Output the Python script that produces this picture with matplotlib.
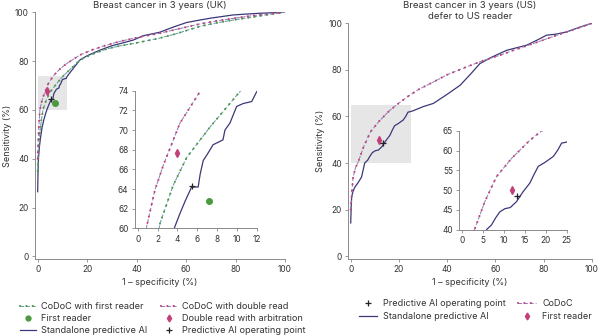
import matplotlib
matplotlib.use("Agg")
import matplotlib.pyplot as plt
from matplotlib.patches import Rectangle
from matplotlib.lines import Line2D

plt.rcParams['font.family'] = ['Inter', 'DejaVu Sans']

# ---------------- UK data ----------------
uk_ai_x = [0, 0.1, 0.3, 0.7, 1.2, 1.8, 2.5, 3.2, 3.76, 4.26, 4.8, 5.44, 6.1, 6.3, 6.61, 7.0, 7.6, 8.6, 8.8, 9.3,
           9.98, 10.65, 11.5, 12.0, 14, 17.1, 20, 25.2, 30, 35, 38.6, 42.7, 49.3, 55, 60.2, 65.5, 70, 79, 85, 90, 95, 100]
uk_ai_y = [26.5, 33, 40, 45, 49, 53, 56, 58.5, 60.2, 61.5, 62.8, 64.2, 64.2, 65.5, 66.9, 67.5, 68.5, 69.0, 70.0, 70.7,
           72.4, 72.7, 72.9, 73.9, 76.5, 80.5, 82.2, 84.5, 86.3, 87.6, 88.6, 90.4, 91.8, 94.0, 95.8, 96.8, 97.6, 98.9, 99.3, 99.6, 99.8, 100]

uk_codoc_first_x = [0, 0.3, 0.8, 1.5, 2.25, 3.59, 4.94, 7.29, 10.3, 13, 17.1, 22, 28, 33, 38.6, 44, 49.3, 56, 65.5, 72, 79, 86, 93, 100]
uk_codoc_first_y = [35, 43, 50, 56, 60.5, 64.4, 67.2, 70.3, 73.9, 76.5, 80.5, 82.8, 85.0, 86.2, 87.2, 88.3, 89.4, 91.2, 94.2, 95.6, 96.8, 97.9, 99.0, 100]

uk_codoc_double_x = [0, 0.2, 0.5, 0.91, 1.74, 2.58, 4.26, 6.28, 9, 12, 17.1, 22, 28, 33, 38.6, 44, 49.3, 56, 65.5, 72, 79, 86, 93, 100]
uk_codoc_double_y = [40, 47, 54, 60.2, 63.9, 66.4, 70.7, 73.9, 76.8, 79.2, 82.5, 84.6, 86.6, 88.0, 89.3, 90.4, 91.4, 93.0, 95.2, 96.4, 97.5, 98.5, 99.3, 100]

uk_first_reader = (7.19, 62.8)
uk_double_read = (3.93, 67.7)
uk_ai_op = (5.44, 64.3)

# ---------------- US data ----------------
us_ai_x = [0, 0.2, 0.4, 1.0, 1.8, 3.0, 4.5, 5.8, 7.0, 8.0, 9.0, 10.2, 11.5, 13.0, 14.5, 16.2, 17.2, 18.2, 19.8, 21.8,
           22.8, 23.8, 24.5, 26, 30, 34.3, 40, 45.4, 50, 53.6, 58, 64.7, 73, 77, 81.3, 85, 89.6, 95, 100]
us_ai_y = [14.3, 21, 25.5, 28, 29.8, 31.5, 34, 40, 41.2, 43, 44.5, 45.3, 45.6, 47.1, 49.5, 51.8, 54, 56.0, 57.0, 58.5,
           60, 61.9, 62, 62.5, 64.2, 65.6, 69.5, 73.4, 78.5, 82.7, 85.2, 88.4, 90.6, 92.6, 94.9, 95.3, 96.3, 98.3, 100]

us_codoc_x = [0, 0.5, 1.0, 2.0, 3.04, 5.4, 8.2, 11.8, 16.2, 19.3, 24, 28, 34.3, 40, 48.1, 55, 62, 68, 75.8, 82, 89.6, 95, 100]
us_codoc_y = [20, 28, 34, 38, 40.3, 47.1, 53.4, 58.0, 62.6, 65.2, 68.8, 71.5, 74.8, 77.9, 81.3, 84.0, 86.3, 88.6, 91.3, 93.6, 96.3, 98.2, 100]

us_first_reader = (11.8, 50.1)
us_ai_op = (13.2, 48.4)

# ---------------- styles ----------------
c_ai = '#3b3878'
c_first_line = '#6a9ab0'
c_first_dot = '#4a9a3e'
c_double_line = '#8f84b8'
c_double_dot = '#c2407a'
c_spine = '#8a8a8a'
c_text = '#333333'
c_box = '#e6e6e6'

DASH = (0, (3.5, 2))
DOT = (0, (0.05, 3.0))

fig = plt.figure(figsize=(6, 3.36), dpi=100)


def style_axes(ax, fs=6):
    for s in ['top', 'right']:
        ax.spines[s].set_visible(False)
    for s in ['left', 'bottom']:
        ax.spines[s].set_color(c_spine)
        ax.spines[s].set_linewidth(0.7)
    ax.tick_params(axis='both', direction='out', length=2.5, width=0.6, color=c_spine,
                   labelsize=fs, labelcolor=c_text, pad=2)
    ax.set_facecolor('none')


def codoc(ax, x, y, lc, mc):
    ax.plot(x, y, linestyle=DASH, color=lc, lw=0.75, zorder=3)
    ax.plot(x, y, linestyle=DOT, color=mc, lw=1.5, dash_capstyle='round', zorder=3.5)


# ---------- Left main ----------
axL = fig.add_axes([0.0587, 0.2295, 0.4163, 0.734])
style_axes(axL)
axL.set_xlim(-1, 100)
axL.set_ylim(-1, 100)
axL.set_xticks([0, 20, 40, 60, 80, 100])
axL.set_yticks([0, 20, 40, 60, 80, 100])
axL.add_patch(Rectangle((0, 60), 12, 14, facecolor=c_box, edgecolor='none', zorder=0))
axL.plot(uk_ai_x, uk_ai_y, color=c_ai, lw=0.9, zorder=2)
codoc(axL, uk_codoc_first_x, uk_codoc_first_y, c_first_line, c_first_dot)
codoc(axL, uk_codoc_double_x, uk_codoc_double_y, c_double_line, c_double_dot)
axL.plot(*uk_first_reader, 'o', color=c_first_dot, ms=4, zorder=5)
axL.plot(*uk_double_read, 'd', color=c_double_dot, ms=4, zorder=5)
axL.plot(*uk_ai_op, '+', color='#222222', ms=5, mew=0.9, zorder=6)
axL.set_xlabel('1 – specificity (%)', fontsize=6.5, color=c_text, labelpad=3)
axL.set_ylabel('Sensitivity (%)', fontsize=6.5, color=c_text, labelpad=2)
axL.set_title('Breast cancer in 3 years (UK)', fontsize=6.9, color=c_text, pad=3)

# ---------- Left inset ----------
axLi = fig.add_axes([0.2245, 0.3205, 0.2033, 0.4095])
style_axes(axLi)
axLi.set_xlim(-0.3, 12)
axLi.set_ylim(60, 74)
axLi.set_xticks([0, 2, 4, 6, 8, 10, 12])
axLi.set_yticks([60, 62, 64, 66, 68, 70, 72, 74])
axLi.plot(uk_ai_x, uk_ai_y, color=c_ai, lw=0.9, zorder=2)
codoc(axLi, uk_codoc_first_x, uk_codoc_first_y, c_first_line, c_first_dot)
codoc(axLi, uk_codoc_double_x, uk_codoc_double_y, c_double_line, c_double_dot)
axLi.plot(*uk_first_reader, 'o', color=c_first_dot, ms=4, zorder=5)
axLi.plot(*uk_double_read, 'd', color=c_double_dot, ms=4, zorder=5)
axLi.plot(*uk_ai_op, '+', color='#222222', ms=5, mew=0.9, zorder=6)

# ---------- Right main ----------
axR = fig.add_axes([0.5805, 0.2304, 0.4057, 0.7003])
style_axes(axR)
axR.set_xlim(-1, 100)
axR.set_ylim(-1, 100)
axR.set_xticks([0, 20, 40, 60, 80, 100])
axR.set_yticks([0, 20, 40, 60, 80, 100])
axR.add_patch(Rectangle((0, 40), 25, 25, facecolor=c_box, edgecolor='none', zorder=0))
axR.plot(us_ai_x, us_ai_y, color=c_ai, lw=0.9, zorder=2)
codoc(axR, us_codoc_x, us_codoc_y, c_double_line, c_double_dot)
axR.plot(*us_first_reader, 'd', color=c_double_dot, ms=4, zorder=5)
axR.plot(*us_ai_op, '+', color='#222222', ms=5, mew=0.9, zorder=6)
axR.set_xlabel('1 – specificity (%)', fontsize=6.5, color=c_text, labelpad=3)
axR.set_ylabel('Sensitivity (%)', fontsize=6.5, color=c_text, labelpad=2)
axR.set_title('Breast cancer in 3 years (US)\ndefer to US reader', fontsize=6.9, color=c_text, pad=3,
              linespacing=1.3)

# ---------- Right inset ----------
axRi = fig.add_axes([0.7655, 0.3164, 0.179, 0.2946])
style_axes(axRi)
axRi.set_xlim(-0.7, 25)
axRi.set_ylim(40, 65)
axRi.set_xticks([0, 5, 10, 15, 20, 25])
axRi.set_yticks([40, 45, 50, 55, 60, 65])
axRi.plot(us_ai_x, us_ai_y, color=c_ai, lw=0.9, zorder=2)
codoc(axRi, us_codoc_x, us_codoc_y, c_double_line, c_double_dot)
axRi.plot(*us_first_reader, 'd', color=c_double_dot, ms=4, zorder=5)
axRi.plot(*us_ai_op, '+', color='#222222', ms=5, mew=0.9, zorder=6)

# ---------- Legends ----------
def h_codoc(lc, mc):
    return (Line2D([], [], linestyle=DASH, color=lc, lw=0.75),
            Line2D([], [], linestyle=DOT, color=mc, lw=1.5, dash_capstyle='round'))

h_ai = Line2D([], [], color=c_ai, lw=0.9)
h_first = Line2D([], [], linestyle='none', marker='o', color=c_first_dot, ms=3.5)
h_double = Line2D([], [], linestyle='none', marker='d', color=c_double_dot, ms=3.5)
h_op = Line2D([], [], linestyle='none', marker='+', color='#222222', ms=5, mew=0.9)

legL = fig.legend([h_codoc(c_first_line, c_first_dot), h_first, h_ai,
                   h_codoc(c_double_line, c_double_dot), h_double, h_op],
                  ['CoDoC with first reader', 'First reader', 'Standalone predictive AI',
                   'CoDoC with double read', 'Double read with arbitration', 'Predictive AI operating point'],
                  ncol=2, loc='upper left', bbox_to_anchor=(0.033, 0.100), frameon=False,
                  fontsize=6.6, handlelength=1.8, handletextpad=0.55, columnspacing=1.45,
                  labelspacing=0.3, borderaxespad=0, borderpad=0)
for t in legL.get_texts():
    t.set_color(c_text)

legR = fig.legend([h_op, h_ai, h_codoc(c_double_line, c_double_dot), h_double],
                  ['Predictive AI operating point', 'Standalone predictive AI', 'CoDoC', 'First reader'],
                  ncol=2, loc='upper left', bbox_to_anchor=(0.598, 0.109), frameon=False,
                  fontsize=6.5, handlelength=2.0, handletextpad=0.7, columnspacing=1.3,
                  labelspacing=0.45, borderaxespad=0, borderpad=0)
for t in legR.get_texts():
    t.set_color(c_text)

fig.savefig('out.png', dpi=100, facecolor='white')
